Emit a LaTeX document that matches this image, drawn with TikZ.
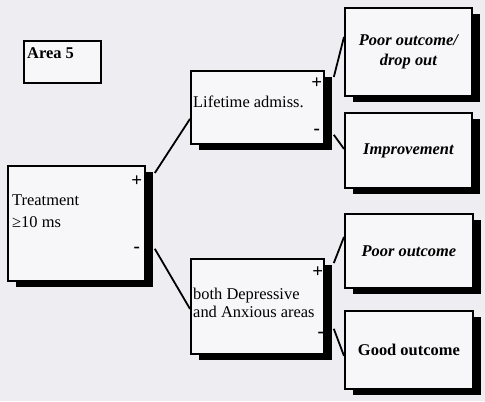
\documentclass[tikz,border=0pt]{standalone}
\usepackage{fontspec}
\setmainfont{Liberation Serif}
\usetikzlibrary{calc,shadows}
\definecolor{paper}{RGB}{238,238,242}
\definecolor{boxfill}{RGB}{247,247,249}
\begin{document}
\begin{tikzpicture}[x=1bp,y=-1bp,
  box/.style={draw=black, line width=1.8bp, fill=boxfill, inner sep=0pt},
  shade box/.style={box, drop shadow={shadow xshift=8bp, shadow yshift=-6bp, fill=black, opacity=1}},
  lbl/.style={font=\fontsize{16.5}{20}\selectfont, inner sep=0pt},
  outc/.style={shade box, align=center, font=\fontsize{16.5}{20}\selectfont\bfseries},
  sign/.style={font=\fontsize{19}{19}\selectfont\bfseries, inner sep=0pt},
  link/.style={line width=1.8bp}]
  % page
  \fill[paper] (0,0) rectangle (485,401);
  \useasboundingbox (0,0) rectangle (485,401);

  % boxes
  \node[box, minimum width=77bp, minimum height=42bp, anchor=north west] (area) at (23,40) {};
  \node[shade box, minimum width=137bp, minimum height=115bp, anchor=north west] (tr) at (7,165) {};
  \node[shade box, minimum width=133bp, minimum height=73bp, anchor=north west] (life) at (190,70) {};
  \node[shade box, minimum width=133bp, minimum height=95bp, anchor=north west] (dep) at (190,258) {};
  \node[outc, minimum width=127bp, minimum height=88bp, anchor=north west] (poor1) at (344,7)
    {\itshape Poor outcome/\\\itshape drop out};
  \node[outc, minimum width=127bp, minimum height=75bp, anchor=north west] (impr) at (344,112)
    {\itshape Improvement};
  \node[outc, minimum width=128bp, minimum height=74bp, anchor=north west] (poor2) at (344,213)
    {\itshape Poor outcome};
  \node[outc, minimum width=128bp, minimum height=78bp, anchor=north west] (good) at (344,310)
    {Good outcome};

  % box texts
  \node[lbl, anchor=base west] (areat) at ($(area.north west)+(4,18)$) {\bfseries Area 5};
  \node[lbl, anchor=west, align=left, font=\fontsize{16.5}{22}\selectfont] (trt)
    at ($(tr.west)+(5,-12)$) {Treatment\\≥10 ms};
  \node[lbl, anchor=base west] (lifet) at ($(life.north west)+(3,37)$) {Lifetime admiss.};
  \node[lbl, anchor=west, align=left, font=\fontsize{16.5}{18}\selectfont] (dept)
    at ($(dep.west)+(3,-4)$) {both Depressive\\and Anxious areas};

  % branch signs
  \node[sign] (trp) at ($(tr.north east)+(-9,16)$) {+};
  \node[sign] (trm) at ($(tr.south east)+(-9,-32)$) {-};
  \node[sign] (lifep) at ($(life.north east)+(-8,13)$) {+};
  \node[sign] (lifem) at ($(life.south east)+(-8,-13)$) {-};
  \node[sign] (depp) at ($(dep.north east)+(-7,14)$) {+};
  \node[sign] (depm) at ($(dep.south east)+(-4,-20)$) {-};

  % branches
  \draw[link] ($(tr.north east)+(9,8)$) -- ($(life.west)+(0,11.5)$);
  \draw[link] ($(tr.south east)+(9,-33)$) -- ($(dep.west)+(0,2.5)$);
  \draw[link] ($(life.north east)+(9,7)$) -- ($(poor1.west)+(0,-15)$);
  \draw[link] ($(life.south east)+(9,-10)$) -- ($(impr.west)+(0,-1.5)$);
  \draw[link] ($(dep.north east)+(9,5)$) -- ($(poor2.west)+(0,-14)$);
  \draw[link] ($(dep.south east)+(9,-26)$) -- ($(good.west)+(0,6)$);
\end{tikzpicture}
\end{document}
